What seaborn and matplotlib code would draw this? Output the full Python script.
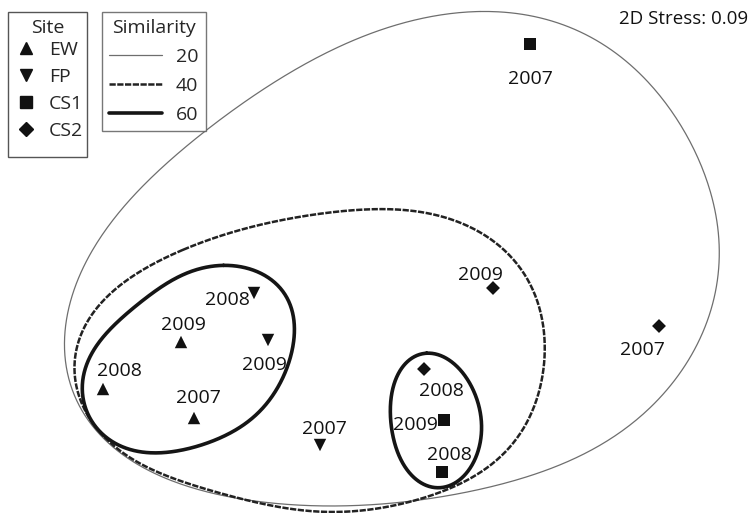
import pandas as pd
import seaborn as sns
import matplotlib.pyplot as plt
import numpy as np
from matplotlib.lines import Line2D

# NMDS ordination scores
site  = ["EW", "EW", "EW", "FP", "FP", "FP", "CS1", "CS1", "CS1", "CS2", "CS2", "CS2"]
year  = ["2009", "2008", "2007", "2008", "2009", "2007", "2007", "2009", "2008", "2009", "2007", "2008"]
nmds1 = [-1.94, -2.72, -1.81, -1.21, -1.07, -0.55, 1.55, 0.69, 0.67, 1.18, 2.84, 0.49]
nmds2 = [-0.86, -1.33, -1.62, -0.37, -0.84, -1.89, 2.12, -1.64, -2.16, -0.32, -0.70, -1.13]

# similarity contours (cluster outlines), traced vertices
sim20_x = [1.05, 2.02, 2.68, 3.15, 3.42, 3.45, 3.32, 2.98, 2.48, 1.82, 0.98, 0.15, -0.45, -1.02,
           -2.02, -2.68, -2.98, -3.12, -2.98, -2.80, -2.35, -1.68, -1.02, -0.35, 0.25]
sim20_y = [2.44, 2.26, 1.79, 1.13, 0.39, -0.04, -0.61, -1.27, -1.74, -2.11, -2.34, -2.47, -2.51, -2.47,
           -2.24, -1.87, -1.44, -0.77, -0.27, 0.06, 0.69, 1.26, 1.73, 2.09, 2.33]
sim40_x = [-1.92, -1.35, -0.52, 0.15, 0.82, 1.15, 1.38, 1.55, 1.68, 1.68, 1.58, 1.38, 0.95, 0.48,
           0.15, -0.68, -1.68, -2.35, -2.82, -3.00, -2.98, -2.85, -2.52]
sim40_y = [0.06, 0.26, 0.43, 0.46, 0.36, 0.16, -0.04, -0.27, -0.61, -1.04, -1.51, -1.91, -2.21, -2.41,
           -2.52, -2.54, -2.34, -2.07, -1.67, -1.27, -0.94, -0.61, -0.27]
sim60a_x = [-1.52, -1.02, -0.82, -0.82, -0.95, -1.28, -1.68, -2.08, -2.52, -2.85, -2.92, -2.85, -2.52, -2.08, -1.75]
sim60a_y = [-0.11, -0.24, -0.54, -0.81, -1.27, -1.67, -1.87, -1.96, -1.91, -1.64, -1.27, -1.01, -0.61, -0.27, -0.12]
sim60b_x = [0.52, 0.82, 1.02, 1.07, 0.95, 0.68, 0.42, 0.22, 0.15, 0.25, 0.35]
sim60b_y = [-0.97, -1.11, -1.44, -1.74, -2.11, -2.32, -2.24, -1.94, -1.54, -1.17, -1.02]

stress = 0.09

df = pd.DataFrame({"Site": site, "Year": year, "NMDS1": nmds1, "NMDS2": nmds2})

# where each year label sits relative to its point (pixels)
label_offset = [(2, 19), (16, 20), (4, 22), (-27, -5), (-4, -23), (4, 18),
                (0, -33), (-29, -3), (7, 19), (-13, 15), (-17, -22), (17, -20)]


def closed_curve(xs, ys, k, n=600):
    # smooth closed outline: low order Fourier fit through traced vertices
    P = np.column_stack([xs, ys])
    d = np.hypot(*np.diff(np.vstack([P, P[:1]]), axis=0).T)
    t = np.concatenate([[0], np.cumsum(d)[:-1]]) / d.sum() * 2 * np.pi

    def basis(tt):
        cols = [np.ones_like(tt)]
        for j in range(1, k + 1):
            cols += [np.cos(j * tt), np.sin(j * tt)]
        return np.column_stack(cols)

    coef, *_ = np.linalg.lstsq(basis(t), P, rcond=None)
    tt = np.linspace(0, 2 * np.pi, n)
    c = basis(tt) @ coef
    return c[:, 0], c[:, 1]


sns.set_style("white")
plt.rcParams["font.family"] = ["Open Sans", "DejaVu Sans"]

fig = plt.figure(figsize=(7.5, 5.13), dpi=100)
ax = fig.add_axes([0, 0, 1, 1])

sim_styles = {
    "20": dict(color="#6e6e6e", lw=0.9, ls="-"),
    "40": dict(color="#222222", lw=1.8, ls=(0, (2.5, 0.6))),
    "60": dict(color="#151515", lw=2.6, ls="-"),
}
for key, xs, ys, k in [("20", sim20_x, sim20_y, 6), ("40", sim40_x, sim40_y, 6),
                       ("60", sim60a_x, sim60a_y, 4), ("60", sim60b_x, sim60b_y, 3)]:
    cx, cy = closed_curve(xs, ys, k)
    ax.plot(cx, cy, **sim_styles[key])

markers = {"EW": "^", "FP": "v", "CS1": "s", "CS2": "D"}
sizes = {"EW": 80, "FP": 80, "CS1": 70, "CS2": 50}
sns.scatterplot(data=df, x="NMDS1", y="NMDS2", style="Site", markers=markers,
                size="Site", sizes=sizes, color="#111111", edgecolor="none",
                legend=False, ax=ax, zorder=5)

for i, row in df.iterrows():
    ax.annotate(row["Year"], (row["NMDS1"], row["NMDS2"]), xytext=label_offset[i],
                textcoords="offset pixels", ha="center", va="center_baseline",
                fontsize=14, color="#111111")

ax.text(0.997, 0.967, "2D Stress: %.2f" % stress, transform=ax.transAxes,
        ha="right", va="center_baseline", fontsize=13.5, color="#111111")

ax.set_xlim(-3.75, 3.75)
ax.set_ylim(-2.57, 2.56)
ax.axis("off")

# site legend (box drawn separately, it has extra room at the bottom)
site_handles = [Line2D([], [], ls="none", marker=markers[s], color="#111111",
                       markersize=np.sqrt(sizes[s]) * 0.95) for s in markers]
leg1 = ax.legend(site_handles, list(markers), title="Site", loc="upper left",
                 bbox_to_anchor=(8 / 750, 1 - 11 / 513, 79 / 750, 0), mode="expand",
                 fontsize=14, title_fontsize=14, frameon=False, handlelength=1.0,
                 handletextpad=0.7, labelspacing=0.47, borderpad=0.42, borderaxespad=0)
leg1._legend_box.sep = 2.5
ax.add_artist(leg1)
fig.add_artist(plt.Rectangle((8 / 750, 1 - 157 / 513), 79 / 750, 145 / 513,
                             transform=fig.transFigure, fill=False,
                             edgecolor="#555555", lw=1.0))

# similarity legend
sim_handles = [Line2D([], [], **sim_styles[k]) for k in ["20", "40", "60"]]
leg2 = ax.legend(sim_handles, ["20", "40", "60"], title="Similarity", loc="upper left",
                 bbox_to_anchor=(102 / 750, 1 - 12 / 513), fontsize=14, title_fontsize=14,
                 frameon=True, fancybox=False, edgecolor="#555555", handlelength=2.75,
                 handletextpad=0.7, labelspacing=0.56, borderpad=0.36, borderaxespad=0)
leg2.get_frame().set_linewidth(1.0)

plt.savefig("out.png", dpi=100)
